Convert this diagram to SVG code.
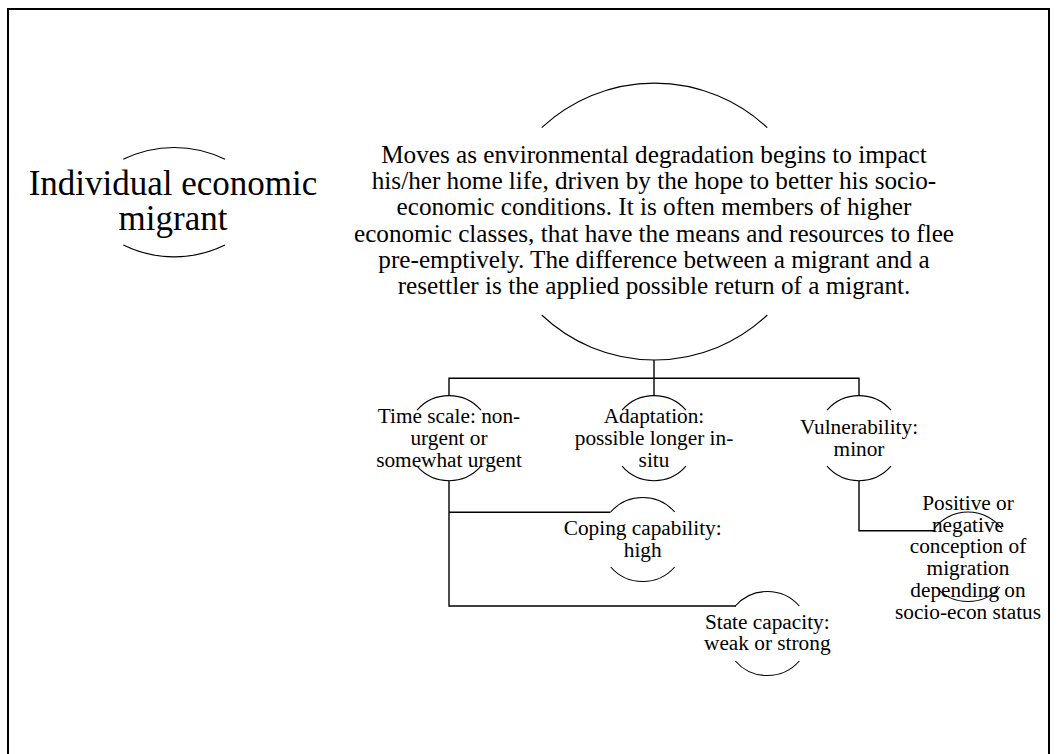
<svg xmlns="http://www.w3.org/2000/svg" width="1058" height="754" viewBox="0 0 1058 754">
<style>
.arc{fill:none;stroke:#000;stroke-width:1.1}
.con{fill:none;stroke:#000;stroke-width:1.4}
.s{font-size:21.3px}
.m{font-size:25.2px}
.t{font-size:35px}
</style>
<rect width="1058" height="754" fill="#fff"/>
<path d="M8,770 V9 H1049 V770" fill="none" stroke="#000" stroke-width="2"/>
<g id="connectors">
<path class="con" d="M654,360 V396"/>
<path class="con" d="M449,396 V378.3 H859 V396"/>
<path class="con" d="M449,480.7 V606 H736"/>
<path class="con" d="M449,512.3 H610.5"/>
<path class="con" d="M859,480.7 V530.7 H934"/>
</g>
<g font-family="'Liberation Serif', 'Times New Roman', Times, serif" fill="#000" text-anchor="middle">
<g id="title">
<path class="arc" d="M123.3,159.3 A115,115 0 0 1 225,159.3"/>
<path class="arc" d="M123.3,245 A115,115 0 0 0 225,245"/>
<text class="t" x="173" y="195">Individual economic</text>
<text class="t" x="173" y="230">migrant</text>
</g>
<g id="main">
<path class="arc" d="M541.7,127.7 A165,165 0 0 1 767.3,127.7"/>
<path class="arc" d="M541.7,315 A164,164 0 0 0 767.3,315"/>
<text class="m" x="654" y="163">Moves as environmental degradation begins to impact</text>
<text class="m" x="654" y="189.2">his/her home life, driven by the hope to better his socio-</text>
<text class="m" x="654" y="215.4">economic conditions. It is often members of higher</text>
<text class="m" x="654" y="241.6">economic classes, that have the means and resources to flee</text>
<text class="m" x="654" y="267.8">pre-emptively. The difference between a migrant and a</text>
<text class="m" x="654" y="294">resettler is the applied possible return of a migrant.</text>
</g>
<g id="timescale">
<path class="arc" d="M417,410.2 A42.5,42.5 0 0 1 481,410.2"/>
<path class="arc" d="M417,466.2 A42.5,42.5 0 0 0 481,466.2"/>
<text class="s" x="449" y="423">Time scale: non-</text>
<text class="s" x="449" y="445">urgent or</text>
<text class="s" x="449" y="467">somewhat urgent</text>
</g>
<g id="adaptation">
<path class="arc" d="M622,410.2 A42.5,42.5 0 0 1 686,410.2"/>
<path class="arc" d="M622,466.2 A42.5,42.5 0 0 0 686,466.2"/>
<text class="s" x="654" y="423">Adaptation:</text>
<text class="s" x="654" y="445">possible longer in-</text>
<text class="s" x="654" y="467">situ</text>
</g>
<g id="vulnerability">
<path class="arc" d="M827,410.2 A42.5,42.5 0 0 1 891,410.2"/>
<path class="arc" d="M827,466.2 A42.5,42.5 0 0 0 891,466.2"/>
<text class="s" x="859" y="433.5">Vulnerability:</text>
<text class="s" x="859" y="455.5">minor</text>
</g>
<g id="coping">
<path class="arc" d="M610.7,512 A42.5,42.5 0 0 1 674.7,512"/>
<path class="arc" d="M610.7,567 A42.5,42.5 0 0 0 674.7,567"/>
<text class="s" x="642.7" y="535">Coping capability:</text>
<text class="s" x="642.7" y="556.5">high</text>
</g>
<g id="state">
<path class="arc" d="M735.3,606 A42.5,42.5 0 0 1 799.3,606"/>
<path class="arc" d="M735.3,661 A42.5,42.5 0 0 0 799.3,661"/>
<text class="s" x="767.3" y="628.5">State capacity:</text>
<text class="s" x="767.3" y="650">weak or strong</text>
</g>
<g id="positive">
<path class="arc" d="M934,529 A42.5,42.5 0 0 1 1002,529"/>
<path class="arc" d="M936,587 A42.5,42.5 0 0 0 1000,587"/>
<text class="s" x="968" y="510">Positive or</text>
<text class="s" x="968" y="531.7">negative</text>
<text class="s" x="968" y="553.4">conception of</text>
<text class="s" x="968" y="575.1">migration</text>
<text class="s" x="968" y="596.8">depending on</text>
<text class="s" x="968" y="618.5">socio-econ status</text>
</g>
</g>
</svg>
